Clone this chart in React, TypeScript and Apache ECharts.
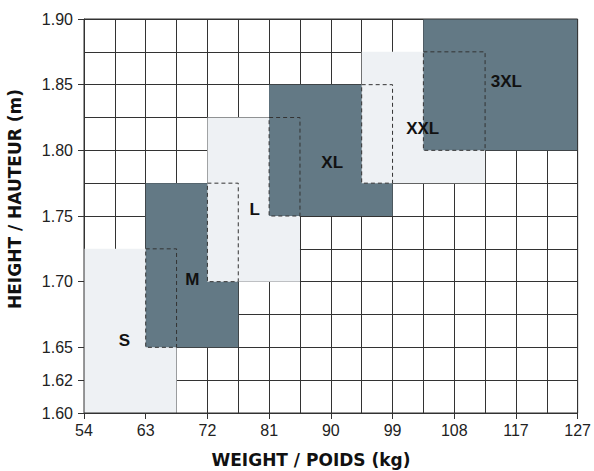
import React, { useEffect, useRef } from 'react';
import * as echarts from 'echarts';

// Axis tick labels and the grid positions (columns / rows) where they sit
const weightTicks = [54, 63, 72, 81, 90, 99, 108, 117, 127];
const weightTickCols = [0, 2, 4, 6, 8, 10, 12, 14, 16];
const heightTicks = [1.6, 1.62, 1.65, 1.7, 1.75, 1.8, 1.85, 1.9];
const heightTickRows = [0, 1, 2, 4, 6, 8, 10, 12];

// Size chart boxes (kg / m)
const sizes = ['S', 'M', 'L', 'XL', 'XXL', '3XL'];
const weightFrom = [54, 63, 72, 81, 94.5, 103.5];
const weightTo = [67.5, 76.5, 85.5, 99, 112.5, 127];
const heightFrom = [1.6, 1.65, 1.7, 1.75, 1.775, 1.8];
const heightTo = [1.725, 1.775, 1.825, 1.85, 1.875, 1.9];
// Where each size label sits (kg / m)
const labelWeight = [59.9, 69.8, 78.9, 90.2, 103.4, 115.6];
const labelHeight = [1.655, 1.702, 1.755, 1.791, 1.8165, 1.8525];

const DARK = '#637985';
const LIGHT = '#eef1f4';
const LINE = '#333333';
const FONT = '"Liberation Sans", Arial, sans-serif';
const TITLE_FONT = '"DejaVu Sans", "Liberation Sans", Arial, sans-serif';

function interp(v: number, ticks: number[], pos: number[]): number {
  for (let i = 0; i < ticks.length - 1; i++) {
    if (v >= ticks[i] && v <= ticks[i + 1]) {
      return pos[i] + ((pos[i + 1] - pos[i]) * (v - ticks[i])) / (ticks[i + 1] - ticks[i]);
    }
  }
  return v < ticks[0] ? pos[0] : pos[pos.length - 1];
}
const wx = (w: number) => interp(w, weightTicks, weightTickCols);
const hy = (h: number) => interp(h, heightTicks, heightTickRows);

export default function App() {
  const ref = useRef<HTMLDivElement>(null);
  useEffect(() => {
    document.body.style.margin = '0';
    if (!ref.current) return;
    const chart = echarts.init(ref.current, undefined, { renderer: 'svg' });

    const boxData = sizes.map((_, i) => {
      const x0 = wx(weightFrom[i]);
      const x1 = wx(weightTo[i]);
      const y0 = hy(heightFrom[i]);
      const y1 = hy(heightTo[i]);
      let ov = [x0, y0, x0, y0];
      if (i > 0) {
        const px0 = wx(weightFrom[i - 1]);
        const px1 = wx(weightTo[i - 1]);
        const py0 = hy(heightFrom[i - 1]);
        const py1 = hy(heightTo[i - 1]);
        ov = [Math.max(x0, px0), Math.max(y0, py0), Math.min(x1, px1), Math.min(y1, py1)];
      }
      return [x0, y0, x1, y1, ...ov];
    });
    const labelData = sizes.map((_, i) => [wx(labelWeight[i]), hy(labelHeight[i])]);

    const colFmt = (v: number) => {
      const k = weightTickCols.indexOf(Math.round(v));
      return k >= 0 ? String(weightTicks[k]) : '';
    };
    const rowFmt = (v: number) => {
      const k = heightTickRows.indexOf(Math.round(v));
      return k >= 0 ? heightTicks[k].toFixed(2) : '';
    };

    const gridAxisX = {
      type: 'value',
      min: 0,
      max: 16,
      interval: 1,
      axisLine: { show: false },
      axisTick: { show: false },
      axisLabel: { show: false },
      splitLine: { show: true, lineStyle: { color: LINE, width: 1 } },
    };
    const gridAxisY = {
      type: 'value',
      min: 0,
      max: 12,
      interval: 1,
      axisLine: { show: false },
      axisTick: { show: false },
      axisLabel: { show: false },
      splitLine: { show: true, lineStyle: { color: LINE, width: 1 } },
    };

    chart.setOption({
      animation: false,
      backgroundColor: '#ffffff',
      grid: { left: 84, right: 13, top: 19, bottom: 58, containLabel: false },
      xAxis: [
        {
          type: 'value',
          min: 0,
          max: 16,
          interval: 1,
          position: 'bottom',
          axisLine: { show: true, lineStyle: { color: LINE, width: 1 } },
          axisTick: { show: true, customValues: weightTickCols, length: 6, lineStyle: { color: LINE } },
          axisLabel: {
            customValues: weightTickCols,
            formatter: colFmt,
            fontSize: 16,
            color: '#222',
            fontFamily: FONT,
            margin: 9,
          },
          splitLine: { show: false },
        },
        { ...gridAxisX, position: 'top' },
      ],
      yAxis: [
        {
          type: 'value',
          min: 0,
          max: 12,
          interval: 1,
          position: 'left',
          axisLine: { show: true, lineStyle: { color: LINE, width: 1 } },
          axisTick: { show: true, customValues: heightTickRows, length: 6, lineStyle: { color: LINE } },
          axisLabel: {
            customValues: heightTickRows,
            formatter: rowFmt,
            fontSize: 16,
            color: '#222',
            fontFamily: FONT,
            margin: 11,
          },
          splitLine: { show: false },
        },
        { ...gridAxisY, position: 'right' },
      ],
      graphic: [
        {
          type: 'text',
          x: 311,
          y: 460,
          style: {
            text: 'WEIGHT / POIDS (kg)',
            align: 'center',
            verticalAlign: 'middle',
            fontSize: 17,
            fontWeight: 'bold',
            fontFamily: TITLE_FONT,
            fill: '#111',
          },
        },
        {
          type: 'text',
          x: 15,
          y: 199,
          rotation: Math.PI / 2,
          style: {
            text: 'HEIGHT / HAUTEUR (m)',
            align: 'center',
            verticalAlign: 'middle',
            fontSize: 17,
            fontWeight: 'bold',
            fontFamily: TITLE_FONT,
            fill: '#111',
          },
        },
      ],
      series: [
        {
          type: 'custom',
          z: 2,
          xAxisIndex: 0,
          yAxisIndex: 0,
          data: boxData,
          encode: { x: [0, 2], y: [1, 3] },
          renderItem: (params: any, api: any) => {
            const i = params.dataIndex;
            const a = api.coord([api.value(0), api.value(3)]);
            const b = api.coord([api.value(2), api.value(1)]);
            const children: any[] = [
              {
                type: 'rect',
                shape: { x: a[0], y: a[1], width: b[0] - a[0], height: b[1] - a[1] },
                style: { fill: i % 2 === 0 ? LIGHT : DARK },
              },
            ];
            if (i > 0) {
              const c = api.coord([api.value(4), api.value(7)]);
              const d = api.coord([api.value(6), api.value(5)]);
              children.push({
                type: 'rect',
                shape: { x: c[0], y: c[1], width: d[0] - c[0], height: d[1] - c[1] },
                style: { fill: 'none', stroke: '#333', lineWidth: 1, lineDash: [4, 3] },
              });
            }
            return { type: 'group', children };
          },
        },
        {
          type: 'custom',
          z: 5,
          xAxisIndex: 0,
          yAxisIndex: 0,
          data: labelData,
          encode: { x: 0, y: 1 },
          renderItem: (params: any, api: any) => {
            const i = params.dataIndex;
            const p = api.coord([api.value(0), api.value(1)]);
            const children: any[] = [
              {
                type: 'text',
                x: p[0],
                y: p[1],
                style: {
                  text: sizes[i],
                  align: 'center',
                  verticalAlign: 'middle',
                  fontSize: 17,
                  fontWeight: 'bold',
                  fontFamily: FONT,
                  fill: '#111',
                },
              },
            ];
            if (i === 0) {
              const cs = params.coordSys;
              children.push({
                type: 'rect',
                shape: { x: cs.x, y: cs.y, width: cs.width, height: cs.height },
                style: { fill: 'none', stroke: LINE, lineWidth: 1 },
              });
            }
            return { type: 'group', children };
          },
        },
      ],
    });
    return () => chart.dispose();
  }, []);
  return <div ref={ref} style={{ width: 594, height: 471 }} />;
}
